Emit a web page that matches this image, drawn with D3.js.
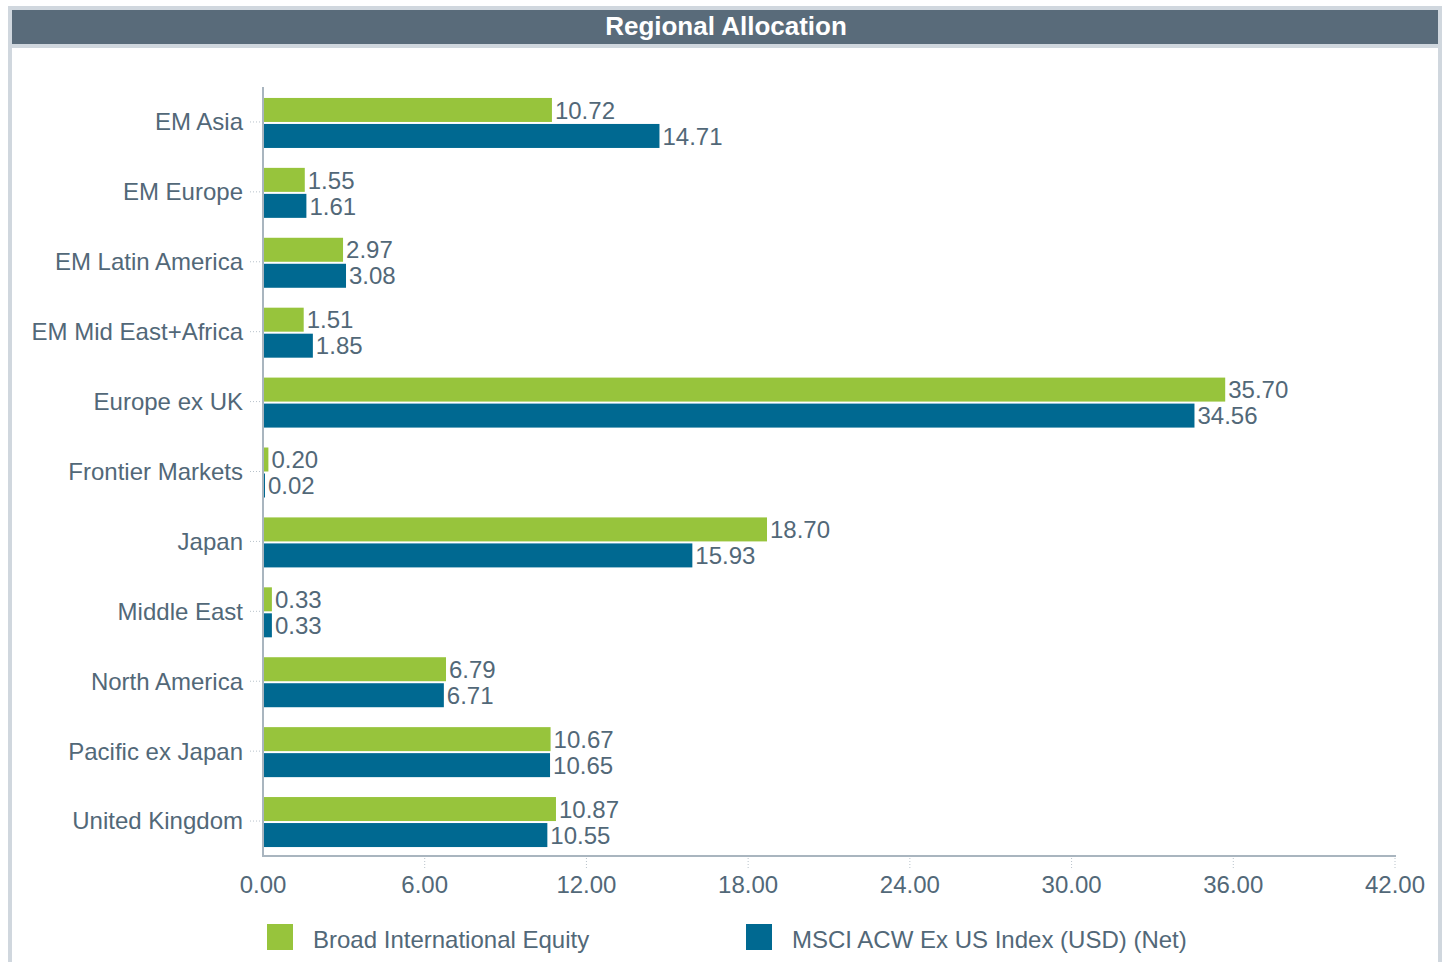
<!DOCTYPE html>
<html>
<head>
<meta charset="utf-8">
<script src="https://cdn.jsdelivr.net/npm/d3@7/dist/d3.min.js"></script>
<style>
  body { margin: 0; background: #fff; font-family: "Liberation Sans", Arial, sans-serif; }
  svg text { font-family: "Liberation Sans", Arial, sans-serif; }
</style>
</head>
<body>
<div id="chart"></div>
<script>
// regions, top to bottom
var regions = ["EM Asia", "EM Europe", "EM Latin America", "EM Mid East+Africa", "Europe ex UK",
  "Frontier Markets", "Japan", "Middle East", "North America", "Pacific ex Japan", "United Kingdom"];
var fundVals = [10.72, 1.55, 2.97, 1.51, 35.70, 0.20, 18.70, 0.33, 6.79, 10.67, 10.87];
var indexVals = [14.71, 1.61, 3.08, 1.85, 34.56, 0.02, 15.93, 0.33, 6.71, 10.65, 10.55];
var seriesNames = ["Broad International Equity", "MSCI ACW Ex US Index (USD) (Net)"];
var xTicks = [0, 6, 12, 18, 24, 30, 36, 42];

var width = 1447, height = 962;
var textCol = "#526878";
var colors = ["#97c43c", "#006991"];
var fs = 24;

var svg = d3.select("#chart").append("svg")
    .attr("width", width)
    .attr("height", height);

// frame + header
svg.append("rect")
    .attr("x", 10).attr("y", 8).attr("width", 1430).attr("height", 970)
    .attr("fill", "#fff").attr("stroke", "#d0d7de").attr("stroke-width", 4);
svg.append("rect")
    .attr("x", 12).attr("y", 10).attr("width", 1426).attr("height", 34)
    .attr("fill", "#596b7a");
svg.append("rect")
    .attr("x", 12).attr("y", 44).attr("width", 1426).attr("height", 4)
    .attr("fill", "#d0d7de");
svg.append("text")
    .attr("x", 726).attr("y", 35)
    .attr("text-anchor", "middle")
    .attr("fill", "#fff")
    .attr("font-size", 26).attr("font-weight", "bold")
    .text("Regional Allocation");

var x = d3.scaleLinear().domain([0, 42]).range([263, 1395]);
var y = d3.scaleBand().domain(regions).range([87, 856]);
var barH = 24;

// category ticks (dotted)
svg.append("g").selectAll("line")
    .data(regions).enter().append("line")
    .attr("x1", 250).attr("x2", 262)
    .attr("y1", function(d) { return y(d) + y.bandwidth() / 2; })
    .attr("y2", function(d) { return y(d) + y.bandwidth() / 2; })
    .attr("stroke", "#b8c2ca").attr("stroke-width", 1).attr("stroke-dasharray", "1,2");

svg.append("g").selectAll("text")
    .data(regions).enter().append("text")
    .attr("x", 243)
    .attr("y", function(d) { return y(d) + y.bandwidth() / 2; })
    .attr("dy", "0.35em")
    .attr("text-anchor", "end")
    .attr("fill", textCol).attr("font-size", fs)
    .text(function(d) { return d; });

// x ticks (dotted) + labels
svg.append("g").selectAll("line")
    .data(xTicks.slice(1)).enter().append("line")
    .attr("x1", function(d) { return x(d); }).attr("x2", function(d) { return x(d); })
    .attr("y1", 858).attr("y2", 869)
    .attr("stroke", "#b8c2ca").attr("stroke-width", 1).attr("stroke-dasharray", "1,2");

svg.append("g").selectAll("text")
    .data(xTicks).enter().append("text")
    .attr("x", function(d) { return x(d); })
    .attr("y", 893)
    .attr("text-anchor", "middle")
    .attr("fill", textCol).attr("font-size", fs)
    .text(function(d) { return d3.format(".2f")(d); });

// bars
var series = [fundVals, indexVals];
series.forEach(function(vals, s) {
  var g = svg.append("g");
  g.selectAll("rect")
      .data(vals).enter().append("rect")
      .attr("x", x(0))
      .attr("y", function(d, i) { return y(regions[i]) + y.bandwidth() / 2 - barH + s * (barH + 2); })
      .attr("width", function(d) { return Math.max(x(d) - x(0), 2); })
      .attr("height", barH)
      .attr("fill", colors[s]);
  g.selectAll("text")
      .data(vals).enter().append("text")
      .attr("x", function(d) { return Math.max(x(d), x(0) + 2) + 3; })
      .attr("y", function(d, i) { return y(regions[i]) + y.bandwidth() / 2 - barH / 2 + s * (barH + 2); })
      .attr("dy", "0.36em")
      .attr("fill", textCol).attr("font-size", fs)
      .text(function(d) { return d3.format(".2f")(d); });
});

// axis lines
svg.append("line")
    .attr("x1", 263).attr("x2", 263).attr("y1", 87).attr("y2", 857)
    .attr("stroke", "#a9b5bf").attr("stroke-width", 2);
svg.append("line")
    .attr("x1", 262).attr("x2", 1396).attr("y1", 856).attr("y2", 856)
    .attr("stroke", "#a9b5bf").attr("stroke-width", 2);

// legend
var legX = [267, 746];
seriesNames.forEach(function(name, s) {
  svg.append("rect")
      .attr("x", legX[s]).attr("y", 924).attr("width", 26).attr("height", 26)
      .attr("fill", colors[s]);
  svg.append("text")
      .attr("x", legX[s] + 46).attr("y", 948)
      .attr("fill", textCol).attr("font-size", fs)
      .text(name);
});
</script>
</body>
</html>
